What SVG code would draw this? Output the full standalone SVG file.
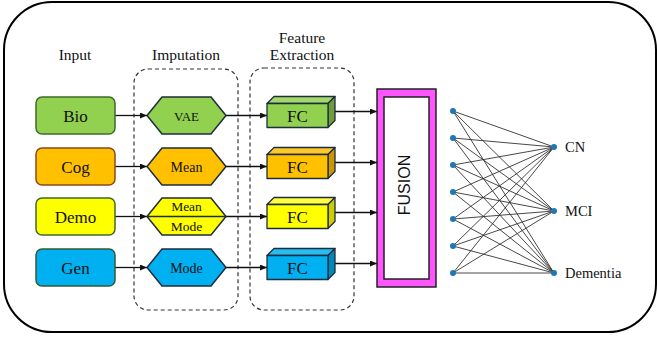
<svg xmlns="http://www.w3.org/2000/svg" width="657" height="338" viewBox="0 0 657 338">
<defs>
<marker id="ah" markerUnits="userSpaceOnUse" markerWidth="7" markerHeight="6" refX="7" refY="3" orient="auto">
<path d="M0,0 L7,3 L0,6 z" fill="#111"/>
</marker>
<style>
.t{font-family:"Liberation Serif","Times New Roman",serif;fill:#111;text-anchor:middle}
.hdr{font-size:15.5px}
.in{font-size:17px}
.hx{font-size:14px}
.fc{font-size:17px}
.out{font-size:14.5px;text-anchor:start}
.box{stroke-width:1.5}
.hex{stroke:#1e2d3d;stroke-width:1.5}
.cube{stroke:#1e2d3d;stroke-width:1.3;stroke-linejoin:round}
.dash{fill:none;stroke:#333;stroke-width:1.2;stroke-dasharray:4 3}
.arr{stroke:#111;stroke-width:1.3;fill:none;marker-end:url(#ah)}
.ln{stroke:#111;stroke-width:1.3;fill:none}
.nn{stroke:#333;stroke-width:0.9}
.dot{fill:#1f77b4}
</style>
</defs>
<rect x="4" y="2" width="652" height="330" rx="48" ry="48" fill="#fff" stroke="#000" stroke-width="2"/>

<g id="headers">
<text class="t hdr" x="75" y="60">Input</text>
<text class="t hdr" x="186" y="60">Imputation</text>
<text class="t hdr" x="302" y="43">Feature</text>
<text class="t hdr" x="302" y="60">Extraction</text>
</g>

<g id="imputation-group"><rect class="dash" x="134" y="69" width="104" height="241" rx="14"/></g>
<g id="feature-group"><rect class="dash" x="250" y="68" width="104" height="242" rx="14"/></g>

<g id="connectors">
<line class="arr" x1="115" y1="115.5" x2="147" y2="115.5"/>
<line class="arr" x1="115" y1="166.5" x2="147" y2="166.5"/>
<line class="arr" x1="115" y1="216.5" x2="147" y2="216.5"/>
<line class="arr" x1="115" y1="267.5" x2="147" y2="267.5"/>
<line class="arr" x1="226" y1="115.5" x2="267" y2="115.5"/>
<line class="arr" x1="226" y1="166.5" x2="267" y2="166.5"/>
<line class="arr" x1="226" y1="216.5" x2="267" y2="216.5"/>
<line class="arr" x1="226" y1="267.5" x2="267" y2="267.5"/>
<line class="arr" x1="335" y1="111.5" x2="377" y2="111.5"/>
<line class="arr" x1="335" y1="162.5" x2="377" y2="162.5"/>
<line class="arr" x1="335" y1="212.5" x2="377" y2="212.5"/>
<line class="arr" x1="335" y1="263.5" x2="377" y2="263.5"/>
</g>

<g id="in-bio"><rect class="box" x="36" y="97" width="79" height="37" rx="6" fill="#92D050" stroke="#3f6a2b"/><text class="t in" x="75.5" y="121.5">Bio</text></g>
<g id="in-cog"><rect class="box" x="36" y="148" width="79" height="37" rx="6" fill="#FFC000" stroke="#8a4a1c"/><text class="t in" x="75.5" y="172.5">Cog</text></g>
<g id="in-demo"><rect class="box" x="36" y="198" width="79" height="37" rx="6" fill="#FFFF00" stroke="#3f6a2b"/><text class="t in" x="75.5" y="222.5">Demo</text></g>
<g id="in-gen"><rect class="box" x="36" y="249" width="79" height="37" rx="6" fill="#00B0F0" stroke="#2f5a3a"/><text class="t in" x="75.5" y="273.5">Gen</text></g>

<g id="imp-vae"><polygon class="hex" points="147,115.5 162,97 211,97 226,115.5 211,134 162,134" fill="#92D050"/><text class="t hx" x="186.5" y="120.5" style="font-size:13px">VAE</text></g>
<g id="imp-mean"><polygon class="hex" points="147,166.5 162,148 211,148 226,166.5 211,185 162,185" fill="#FFC000"/><text class="t hx" x="186.5" y="171.5">Mean</text></g>
<g id="imp-meanmode"><polygon class="hex" points="147,216.5 162,198 211,198 226,216.5 211,235 162,235" fill="#FFFF00"/><line x1="147" y1="216.5" x2="226" y2="216.5" stroke="#1e2d3d" stroke-width="1.3"/><text class="t hx" x="186.5" y="211" style="font-size:13.5px">Mean</text><text class="t hx" x="186.5" y="231" style="font-size:13.5px">Mode</text></g>
<g id="imp-mode"><polygon class="hex" points="147,267.5 162,249 211,249 226,267.5 211,286 162,286" fill="#00B0F0"/><text class="t hx" x="186.5" y="272.5">Mode</text></g>

<g id="fc-bio"><polygon class="cube" points="267,103.5 274,96.5 335,96.5 328,103.5" fill="#a3d96a"/><polygon class="cube" points="328,103.5 335,96.5 335,120.5 328,127.5" fill="#6e9e3c"/><rect class="cube" x="267" y="103.5" width="61" height="24" fill="#92D050"/><text class="t fc" x="297.5" y="121.5">FC</text></g>
<g id="fc-cog"><polygon class="cube" points="267,154.5 274,147.5 335,147.5 328,154.5" fill="#ffc82a"/><polygon class="cube" points="328,154.5 335,147.5 335,171.5 328,178.5" fill="#cc9600"/><rect class="cube" x="267" y="154.5" width="61" height="24" fill="#FFC000"/><text class="t fc" x="297.5" y="172.5">FC</text></g>
<g id="fc-demo"><polygon class="cube" points="267,204.5 274,197.5 335,197.5 328,204.5" fill="#ffff40"/><polygon class="cube" points="328,204.5 335,197.5 335,221.5 328,228.5" fill="#cccc00"/><rect class="cube" x="267" y="204.5" width="61" height="24" fill="#FFFF00"/><text class="t fc" x="297.5" y="222.5">FC</text></g>
<g id="fc-gen"><polygon class="cube" points="267,255.5 274,248.5 335,248.5 328,255.5" fill="#25bdf2"/><polygon class="cube" points="328,255.5 335,248.5 335,272.5 328,279.5" fill="#0088bb"/><rect class="cube" x="267" y="255.5" width="61" height="24" fill="#00B0F0"/><text class="t fc" x="297.5" y="273.5">FC</text></g>

<g id="fusion">
<rect x="377" y="89" width="59" height="198" fill="#FF55FF" stroke="#222" stroke-width="1.5"/>
<rect x="384" y="97" width="45" height="182" fill="#fff" stroke="#222" stroke-width="1.5"/>
<text x="404" y="185" transform="rotate(-90 404 185)" text-anchor="middle" dominant-baseline="central" font-family="Liberation Sans, Arial, sans-serif" font-size="16" fill="#111">FUSION</text>
</g>

<g id="network">
<g id="nn-edges" class="nn">
<line x1="453" y1="111" x2="554" y2="147"/><line x1="453" y1="111" x2="554" y2="211"/><line x1="453" y1="111" x2="554" y2="273"/>
<line x1="453" y1="138" x2="554" y2="147"/><line x1="453" y1="138" x2="554" y2="211"/><line x1="453" y1="138" x2="554" y2="273"/>
<line x1="453" y1="165" x2="554" y2="147"/><line x1="453" y1="165" x2="554" y2="211"/><line x1="453" y1="165" x2="554" y2="273"/>
<line x1="453" y1="192" x2="554" y2="147"/><line x1="453" y1="192" x2="554" y2="211"/><line x1="453" y1="192" x2="554" y2="273"/>
<line x1="453" y1="219" x2="554" y2="147"/><line x1="453" y1="219" x2="554" y2="211"/><line x1="453" y1="219" x2="554" y2="273"/>
<line x1="453" y1="246" x2="554" y2="147"/><line x1="453" y1="246" x2="554" y2="211"/><line x1="453" y1="246" x2="554" y2="273"/>
<line x1="453" y1="273" x2="554" y2="147"/><line x1="453" y1="273" x2="554" y2="211"/><line x1="453" y1="273" x2="554" y2="273"/>
</g>
<g id="nn-input-nodes">
<circle class="dot" cx="453" cy="111" r="3"/><circle class="dot" cx="453" cy="138" r="3"/><circle class="dot" cx="453" cy="165" r="3"/><circle class="dot" cx="453" cy="192" r="3"/><circle class="dot" cx="453" cy="219" r="3"/><circle class="dot" cx="453" cy="246" r="3"/><circle class="dot" cx="453" cy="273" r="3"/>
</g>
<g id="out-cn"><circle class="dot" cx="554" cy="147" r="3"/><text class="t out" x="565" y="152">CN</text></g>
<g id="out-mci"><circle class="dot" cx="554" cy="211" r="3"/><text class="t out" x="565" y="216">MCI</text></g>
<g id="out-dementia"><circle class="dot" cx="554" cy="273" r="3"/><text class="t out" x="565" y="278">Dementia</text></g>
</g>
</svg>
